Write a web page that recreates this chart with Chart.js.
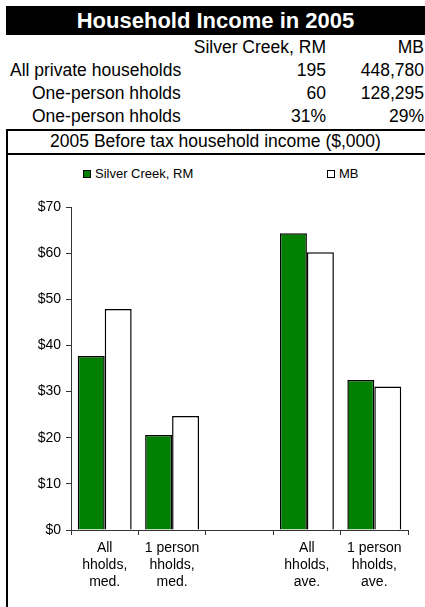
<!DOCTYPE html>
<html>
<head>
<meta charset="utf-8">
<script src="https://cdn.jsdelivr.net/npm/chart.js@4/dist/chart.umd.min.js"></script>
<style>
  body { margin: 0; background: #fff; font-family: "Liberation Sans", Arial, sans-serif; }
  #page { position: relative; width: 425px; height: 607px; overflow: hidden; }
  .abs { position: absolute; white-space: nowrap; }
  .row { font-size: 17.5px; line-height: 23px; color: #000; }
  .r { text-align: right; }
  #title { left: 6px; top: 6px; width: 419px; height: 29px; background: #000; color: #fff;
           font-weight: bold; font-size: 22px; line-height: 29px; text-align: center; }
  .hline { position: absolute; left: 6px; width: 419px; background: #000; }
  #vline { position: absolute; left: 6px; top: 129px; width: 2px; height: 478px; background: #000; }
  .box { position: absolute; width: 6px; height: 6px; border: 1.5px solid #000; }
  .leg { font-size: 13px; line-height: 16px; }
  #wrap { position: absolute; left: 7px; top: 155px; width: 418px; height: 452px; }
</style>
</head>
<body>
<div id="page">
  <div id="title" class="abs">Household Income in 2005</div>

  <div class="abs row r" style="left:150px; width:176px; top:36px;">Silver Creek, RM</div>
  <div class="abs row r" style="left:330px; width:94px; top:36px;">MB</div>

  <div class="abs row" style="left:10px; top:59px;">All private households</div>
  <div class="abs row r" style="left:230px; width:96px; top:59px;">195</div>
  <div class="abs row r" style="left:330px; width:94px; top:59px;">448,780</div>

  <div class="abs row" style="left:32px; top:82px;">One-person hholds</div>
  <div class="abs row r" style="left:230px; width:96px; top:82px;">60</div>
  <div class="abs row r" style="left:330px; width:94px; top:82px;">128,295</div>

  <div class="abs row" style="left:32px; top:105px;">One-person hholds</div>
  <div class="abs row r" style="left:230px; width:96px; top:105px;">31%</div>
  <div class="abs row r" style="left:330px; width:94px; top:105px;">29%</div>

  <div class="hline" style="top:129px; height:2px;"></div>
  <div class="abs row" style="left:6px; width:419px; text-align:center; top:130px;">2005 Before tax household income ($,000)</div>
  <div class="hline" style="top:153px; height:1.5px;"></div>
  <div id="vline"></div>

  <div class="box" style="left:83px; top:170px; background:#008000;"></div>
  <div class="abs leg" style="left:95px; top:166px;">Silver Creek, RM</div>
  <div class="box" style="left:327px; top:170px; background:#fff;"></div>
  <div class="abs leg" style="left:339px; top:166px;">MB</div>

  <div id="wrap"><canvas id="chart"></canvas></div>
</div>
<script>
// valeurs ($,000)
const categories = [
  ['All', 'hholds,', 'med.'],
  ['1 person', 'hholds,', 'med.'],
  '',
  ['All', 'hholds,', 'ave.'],
  ['1 person', 'hholds,', 'ave.']
];
const silverCreek = [37.7, 20.6, null, 64.3, 32.5];
const manitoba = [47.9, 24.7, null, 60.2, 31.1];
const yTicks = [0, 10, 20, 30, 40, 50, 60, 70];

const ctx = document.getElementById('chart');
new Chart(ctx, {
  type: 'bar',
  data: {
    labels: categories,
    datasets: [{
      label: 'Silver Creek, RM',
      data: silverCreek,
      backgroundColor: '#008000',
      borderColor: '#000',
      borderWidth: 1.5,
      borderSkipped: 'bottom'
    }, {
      label: 'MB',
      data: manitoba,
      backgroundColor: '#fff',
      borderColor: '#000',
      borderWidth: 1.5,
      borderSkipped: 'bottom'
    }]
  },
  options: {
    responsive: true,
    maintainAspectRatio: false,
    animation: false,
    datasets: { bar: { categoryPercentage: 0.8, barPercentage: 1 } },
    layout: { padding: { top: 52, right: 17, left: 0, bottom: 0 } },
    plugins: {
      legend: { display: false },
      tooltip: { enabled: false }
    },
    scales: {
      x: {
        grid: { display: true, offset: true, drawOnChartArea: false, tickLength: 5, color: '#333' },
        border: { color: '#333', width: 1 },
        ticks: { color: '#000', font: { family: 'Liberation Sans', size: 14 }, padding: 5, maxRotation: 0, autoSkip: false },
        afterFit: (s) => { s.height = 77; }
      },
      y: {
        min: 0,
        max: 70,
        afterBuildTicks: (s) => { s.ticks = yTicks.map(v => ({ value: v })); },
        grid: { display: true, drawOnChartArea: false, tickLength: 5, color: '#333' },
        border: { color: '#333', width: 1 },
        ticks: { color: '#000', font: { family: 'Liberation Sans', size: 14 }, padding: 5,
                 callback: (v) => '$' + v },
        afterFit: (s) => { s.width = 64; }
      }
    }
  }
});
</script>
</body>
</html>
